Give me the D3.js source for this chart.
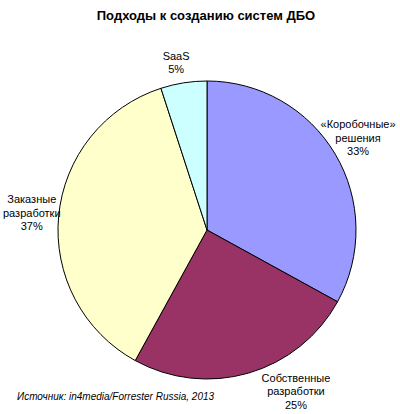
<!DOCTYPE html>
<html lang="ru">
<head>
    <meta charset="UTF-8">
    <title>Подходы к созданию систем ДБО</title>
    <script src="https://d3js.org/d3.v7.min.js"></script>
    <style>
        body { margin: 0; background: #fff; }
        text { font-family: "Liberation Sans", Arial, sans-serif; fill: #000; }
    </style>
</head>
<body>

    <svg id="svg" width="400" height="414"></svg>

    <script>
        // data
        const categories = ["«Коробочные» решения", "Собственные разработки", "Заказные разработки", "SaaS"];
        const labelLines = [["«Коробочные»", "решения"], ["Собственные", "разработки"], ["Заказные", "разработки"], ["SaaS"]];
        const values = [33, 25, 37, 5];
        const sliceColors = ["#9999FF", "#993366", "#FFFFCC", "#CCFFFF"];

        // label nudges (Excel pushes some labels off the plain centroid)
        const labelNudge = [[3, -4.5], [41, -4], [-4, -1], [-4, 2.5]];

        const svg = d3.select('svg');
        const width = +svg.attr('width');

        const cx = 207, cy = 230, radius = 149;
        const lineH = 13.5;

        svg.append('text')
            .attr('x', 206)
            .attr('y', 20)
            .attr('text-anchor', 'middle')
            .style('font-size', '13px')
            .style('font-weight', 'bold')
            .text('Подходы к созданию систем ДБО');

        const pie = d3.pie().sort(null).value(d => d);
        const arcs = pie(values);

        const arc = d3.arc().innerRadius(0).outerRadius(radius);
        const labelArc = d3.arc().innerRadius(172).outerRadius(172);

        const plot = svg.append('g')
            .attr('transform', `translate(${cx},${cy})`);

        plot.selectAll('path')
            .data(arcs)
            .enter()
            .append('path')
            .attr('d', arc)
            .attr('fill', (d, i) => sliceColors[i])
            .attr('stroke', '#000')
            .attr('stroke-width', 1)
            .attr('stroke-linejoin', 'round');

        const labels = plot.selectAll('text.lbl')
            .data(arcs)
            .enter()
            .append('text')
            .attr('class', 'lbl')
            .attr('text-anchor', 'middle')
            .style('font-size', '11px')
            .each(function(d, i) {
                const c = labelArc.centroid(d);
                const x = c[0] + labelNudge[i][0];
                const lines = labelLines[i].concat([values[i] + '%']);
                const y0 = c[1] + labelNudge[i][1] - (lines.length - 1) * lineH / 2 + 4;
                d3.select(this).selectAll('tspan')
                    .data(lines)
                    .enter()
                    .append('tspan')
                    .attr('x', x)
                    .attr('y', (t, j) => y0 + j * lineH)
                    .text(t => t);
            });

        svg.append('text')
            .attr('x', 17)
            .attr('y', 400)
            .style('font-size', '10px')
            .style('font-style', 'italic')
            .text('Источник: in4media/Forrester Russia, 2013');
    </script>

</body>
</html>
